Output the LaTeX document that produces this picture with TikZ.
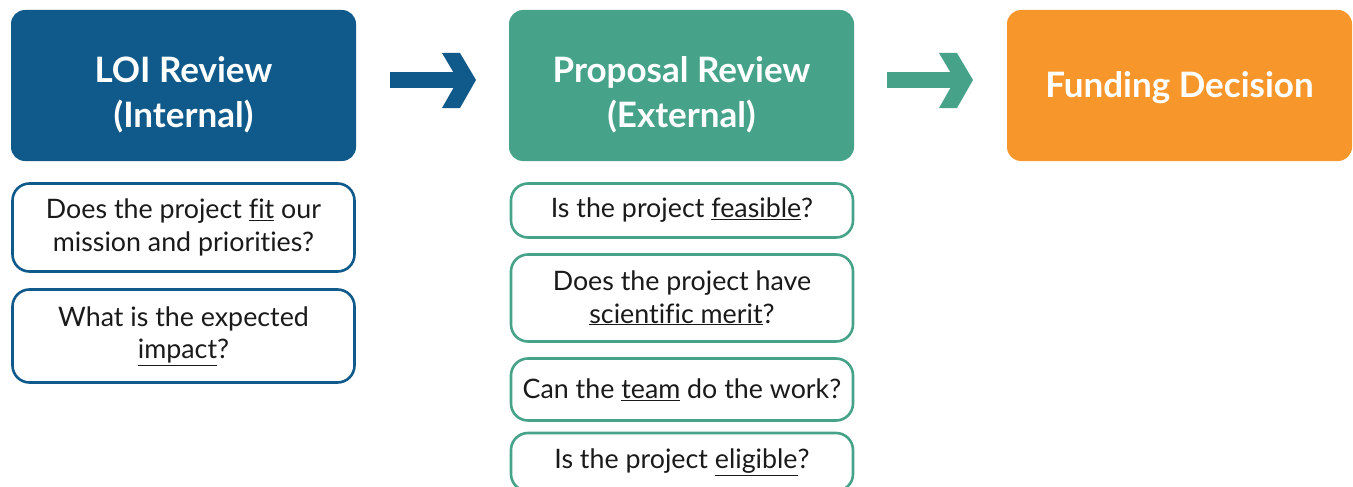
\documentclass[tikz,border=0pt]{standalone}
\usepackage{fontspec}
\setmainfont[Ligatures={NoCommon,NoRare,NoContextual}]{Lato}
\definecolor{cblue}{HTML}{0F5A8B}
\definecolor{cteal}{HTML}{46A38A}
\definecolor{corange}{HTML}{F7962B}
\definecolor{ctext}{HTML}{1A1A1A}
\begin{document}
\begin{tikzpicture}[x=1pt,y=-1pt,
  head/.style={rounded corners=14pt, minimum width=345pt, minimum height=151pt, inner sep=0pt},
  headtext/.style={text=white, font=\fontsize{35}{45}\selectfont\bfseries, align=center, inner sep=0pt},
  q/.style={rounded corners=17pt, line width=2.6pt, fill=white, minimum width=342pt, text=ctext,
    font=\fontsize{26.8}{32.5}\selectfont, align=center, inner sep=0pt},
  qb/.style={q, draw=cblue},
  qt/.style={q, draw=cteal}]
\useasboundingbox (0,0) rectangle (1353,487);
\node[head, fill=cblue, label={[headtext, yshift=-9pt]center:{LOI Review\\(Internal)}}] (loi) at (183.5,85.5) {};
\node[head, fill=cteal, label={[headtext, yshift=-9pt]center:{Proposal Review\\(External)}}] (prop) at (681.5,85.5) {};
\node[head, fill=corange, label={[headtext, yshift=-2pt]center:{Funding Decision}}] (fund) at (1179.5,85.5) {};
% arrows
\fill[cblue] (390,72) rectangle (460,88);
\fill[cblue] (442,53) -- (460,53) -- (476,80) -- (460,108) -- (442,108) -- (458,80) -- cycle;
\fill[cteal] (887,72) rectangle (956,88);
\fill[cteal] (939,53) -- (957,53) -- (973,80) -- (957,108) -- (939,108) -- (955,80) -- cycle;
% left questions
\node[qb, minimum height=88pt] (l1) at (183.5,227.5) {Does the project \underline{fit} our\\mission and priorities?};
\node[qb, minimum height=93pt] (l2) at (183.5,336) {What is the expected\\\underline{impact}?};
% middle questions
\node[qt, minimum height=54pt] (m1) at (682,210.5) {Is the project \underline{feasible}?};
\node[qt, minimum height=87pt] (m2) at (682,298) {Does the project have\\\underline{scientific merit}?};
\node[qt, minimum height=62pt] (m3) at (682,389.5) {Can the \underline{team} do the work?};
\node[qt, minimum height=58pt] (m4) at (682,462) {Is the project \underline{eligible}?};
\end{tikzpicture}
\end{document}
